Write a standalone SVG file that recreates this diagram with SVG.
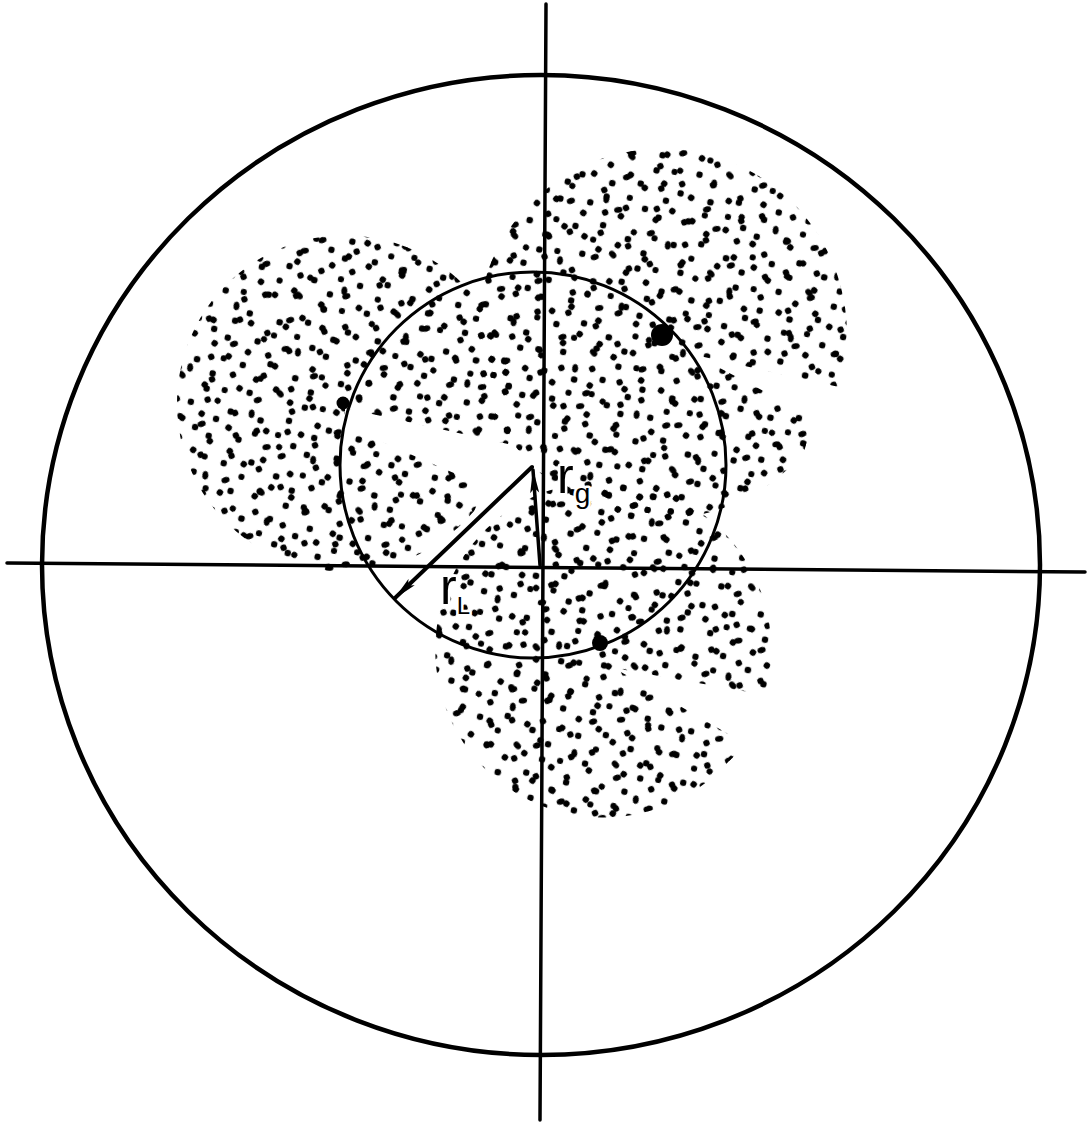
<svg xmlns="http://www.w3.org/2000/svg" width="1089" height="1122" viewBox="0 0 1089 1122">
<style>
.ln{fill:none;stroke:#000;stroke-linecap:round}
.lbl{font-family:"Liberation Sans",Arial,sans-serif;fill:#000;stroke:#fff;stroke-width:5;paint-order:stroke;stroke-linejoin:round}
.p1{fill:url(#dotsA)}
.p2{fill:url(#dotsB)}
.p3{fill:url(#dotsC)}
</style>
<defs>
<pattern id="dotsA" patternUnits="userSpaceOnUse" width="100" height="100" patternTransform="rotate(11)">
<g fill="#000">
<circle cx="8" cy="12" r="3.2"/><circle cx="35" cy="6" r="3.2"/><circle cx="62" cy="15" r="3.3"/><circle cx="88" cy="9" r="3.1"/>
<circle cx="20" cy="38" r="3.2"/><ellipse cx="50" cy="33" rx="4.2" ry="3" transform="rotate(35 50 33)"/><circle cx="77" cy="42" r="3.2"/><circle cx="95" cy="40" r="3.1"/>
<circle cx="5" cy="60" r="3.2"/><circle cx="36" cy="63" r="3.3"/><circle cx="64" cy="58" r="3.2"/><circle cx="92" cy="70" r="3.2"/>
<circle cx="18" cy="86" r="3.2"/><ellipse cx="47" cy="88" rx="4.2" ry="3" transform="rotate(-20 47 88)"/><circle cx="73" cy="82" r="3.2"/><circle cx="56" cy="74" r="3.1"/>
<circle cx="28" cy="22" r="3.1"/><circle cx="80" cy="26" r="3.2"/><circle cx="33" cy="77" r="3.1"/><circle cx="88" cy="88" r="3.2"/>
</g>
</pattern>
<pattern id="dotsB" patternUnits="userSpaceOnUse" width="77" height="77" patternTransform="rotate(37)">
<g fill="#000">
<circle cx="10" cy="30" r="3.2"/><circle cx="40" cy="12" r="3.2"/><ellipse cx="65" cy="25" rx="4.2" ry="3" transform="rotate(60 65 25)"/>
<circle cx="25" cy="55" r="3.2"/><circle cx="55" cy="50" r="3.3"/><circle cx="70" cy="68" r="3.2"/>
<circle cx="12" cy="70" r="3.2"/><circle cx="30" cy="35" r="3.1"/><circle cx="48" cy="72" r="3.2"/>
</g>
</pattern>
<pattern id="dotsC" patternUnits="userSpaceOnUse" width="61" height="61" patternTransform="rotate(-23)">
<g fill="#000">
<circle cx="7" cy="9" r="3.2"/><circle cx="35" cy="22" r="3.2"/><circle cx="55" cy="45" r="3.2"/><ellipse cx="20" cy="42" rx="4.2" ry="3" transform="rotate(10 20 42)"/><circle cx="47" cy="5" r="3.2"/>
</g>
</pattern>
<clipPath id="clipLeft"><path d="M345,426 L470,480 Q484,496 474,511 A168,168 0 1 1 508,444 L345,408 Z"/></clipPath>
<clipPath id="clipUpper"><path d="M695,355 L800,410 Q812,430 804,452 A185,185 0 1 1 839,387 Z"/></clipPath>
<clipPath id="clipLower"><path d="M614,668 L730,735 Q744,750 729,761 A168,168 0 1 1 765,695 Z"/></clipPath>
<marker id="ah" markerUnits="userSpaceOnUse" viewBox="0 0 24 10" refX="23" refY="5" markerWidth="24" markerHeight="10" orient="auto">
<path d="M0,0.5 L24,5 L0,9.5 L5,5 Z" fill="#000"/>
</marker>
</defs>
<rect width="1089" height="1122" fill="#fff"/>

<g id="blob-left" clip-path="url(#clipLeft)">
<rect class="p1" x="160" y="230" width="360" height="360"/>
<rect class="p2" x="160" y="230" width="360" height="360"/>
<rect class="p3" x="160" y="230" width="360" height="360"/>
</g>
<g id="blob-upper-right" clip-path="url(#clipUpper)">
<rect class="p1" x="470" y="140" width="390" height="390"/>
<rect class="p2" x="470" y="140" width="390" height="390"/>
<rect class="p3" x="470" y="140" width="390" height="390"/>
</g>
<g id="blob-lower" clip-path="url(#clipLower)">
<rect class="p1" x="420" y="470" width="360" height="360"/>
<rect class="p2" x="420" y="470" width="360" height="360"/>
<rect class="p3" x="420" y="470" width="360" height="360"/>
</g>

<g id="axes">
<path class="ln" stroke-width="3.5" d="M546,4 L540,1120"/>
<path class="ln" stroke-width="3.5" d="M7,563 L1085,572"/>
</g>
<g id="outer-circle">
<ellipse class="ln" stroke-width="4.5" cx="541" cy="565" rx="499" ry="490"/>
</g>
<g id="inner-circle">
<circle class="ln" stroke-width="3" cx="533" cy="465" r="193"/>
</g>

<g id="markers">
<circle cx="343" cy="403" r="6.5" fill="#000"/>
<circle cx="662" cy="335" r="11" fill="#000"/>
<circle cx="600" cy="643" r="8" fill="#000"/>
</g>

<g id="connectors">
<path class="ln" stroke-width="4" d="M532,467 L395,598" marker-end="url(#ah)"/>
<path class="ln" stroke-width="3.5" d="M540,565 L533,470" marker-end="url(#ah)"/>
</g>

<g id="labels">
<text class="lbl" x="557" y="493" font-size="50">r<tspan font-size="28" dx="1" dy="10">g</tspan></text>
<text class="lbl" x="440" y="604" font-size="50">r<tspan font-size="24" dx="0" dy="10">L</tspan></text>
</g>
</svg>
